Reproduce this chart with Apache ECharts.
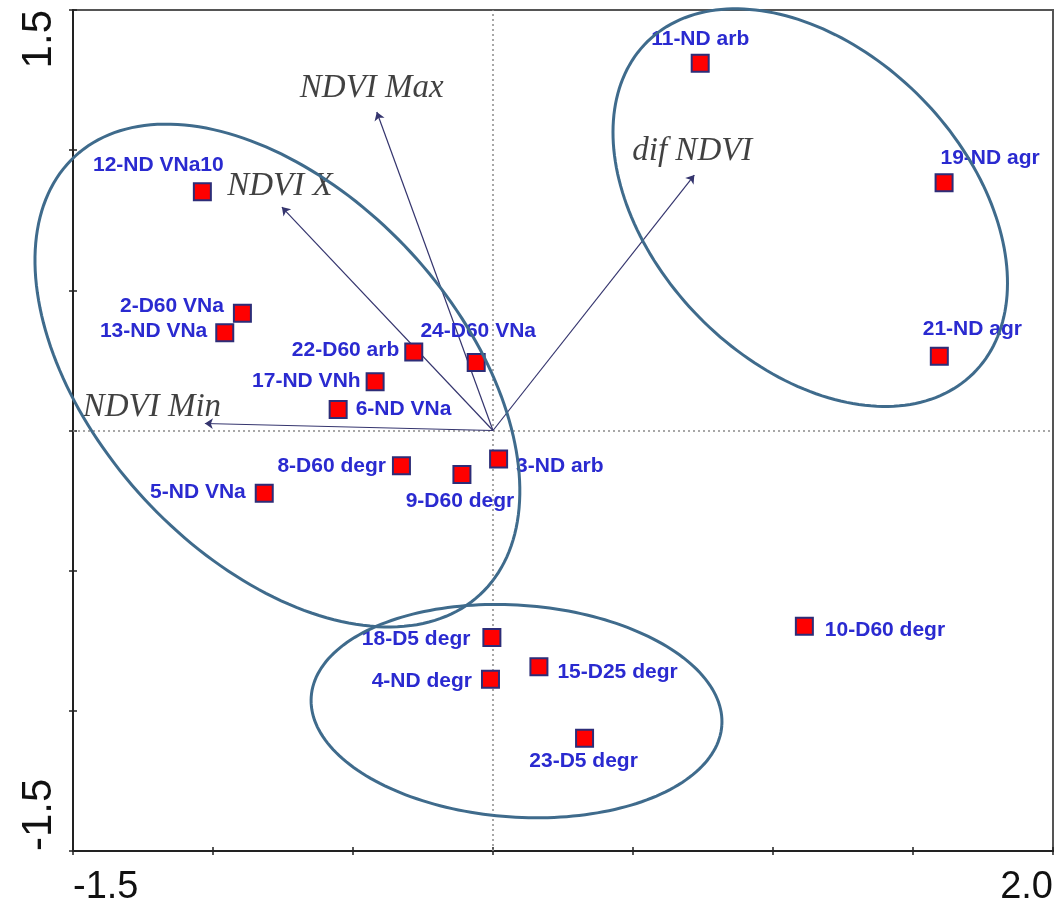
<!DOCTYPE html>
<html><head><meta charset="utf-8">
<script src="https://cdn.jsdelivr.net/npm/echarts@6/dist/echarts.min.js"></script>
<style>html,body{margin:0;padding:0;background:#fff}#c{width:1056px;height:910px}</style>
</head><body><div id="c"></div>
<script>
// ---- data ----
const pointNames = ['11-ND arb','19-ND agr','21-ND agr','12-ND VNa10','2-D60 VNa','13-ND VNa','22-D60 arb','24-D60 VNa','17-ND VNh','6-ND VNa','8-D60 degr','9-D60 degr','3-ND arb','5-ND VNa','18-D5 degr','4-ND degr','15-D25 degr','23-D5 degr','10-D60 degr'];
const pointX = [0.740, 1.611, 1.594, -1.038, -0.895, -0.958, -0.283, -0.060, -0.421, -0.553, -0.327, -0.111, 0.020, -0.817, -0.004, -0.009, 0.164, 0.327, 1.112];
const pointY = [1.310, 0.884, 0.265, 0.852, 0.418, 0.349, 0.280, 0.243, 0.174, 0.075, -0.126, -0.157, -0.102, -0.224, -0.738, -0.887, -0.843, -1.098, -0.698];
const vectorNames = ['NDVI Max', 'NDVI X', 'dif NDVI', 'NDVI Min'];
const vectorX = [-0.415, -0.754, 0.719, -1.029];
const vectorY = [1.136, 0.797, 0.911, 0.025];
const ellipseCx = [-0.770, 1.133, 0.084];
const ellipseCy = [0.196, 0.795, -1.001];
const ellipseA = [1.065, 0.830, 0.735];
const ellipseB = [0.648, 0.557, 0.378];
const ellipseAngle = [-47.2, -45.5, -4];
const xTickLabels = ['-1.5', '2.0'];
const yTickLabels = ['-1.5', '1.5'];

// ---- label layout (style only) ----
const labelLayout = {
  '11-ND arb': ['top', 4, 0, 0],
  '19-ND agr': ['top', 4, 46, 0],
  '21-ND agr': ['top', 7, 33, 0],
  '12-ND VNa10': ['top', 6, -44, 0],
  '2-D60 VNa': ['left', 9, 0, -7],
  '13-ND VNa': ['left', 8, 0, -1],
  '22-D60 arb': ['left', 5, 0, -2],
  '24-D60 VNa': ['top', 11, 2, 0],
  '17-ND VNh': ['left', 5, 0, -1],
  '6-ND VNa': ['right', 8, 0, 0],
  '8-D60 degr': ['left', 6, 0, 0],
  '9-D60 degr': ['bottom', 7, -2, 0],
  '3-ND arb': ['right', 8, 0, 7],
  '5-ND VNa': ['left', 9, 0, -1],
  '18-D5 degr': ['left', 12, 0, 2],
  '4-ND degr': ['left', 9, 0, 2],
  '15-D25 degr': ['right', 9, 0, 5],
  '23-D5 degr': ['bottom', 3, -1, 0],
  '10-D60 degr': ['right', 11, 0, 4]
};
const vectorLabelOffset = {
  'NDVI Max': [-5, -24],
  'NDVI X': [-2, -21],
  'dif NDVI': [-2, -24],
  'NDVI Min': [-53, -16]
};

const chart = echarts.init(document.getElementById('c'), null, {renderer: 'canvas'});

const pointData = pointNames.map((n, i) => {
  const L = labelLayout[n];
  return {name: n, value: [pointX[i], pointY[i]],
    label: {position: L[0], distance: L[1], offset: [L[2], L[3]]}};
});
const vectorTipData = vectorNames.map((n, i) => ({
  name: n, value: [vectorX[i], vectorY[i]],
  label: {offset: vectorLabelOffset[n]}
}));
const vectorLines = vectorNames.map((n, i) => ({coords: [[0, 0], [vectorX[i], vectorY[i]]]}));
const ellipseData = ellipseCx.map((c, i) => [c, ellipseCy[i], ellipseA[i], ellipseB[i], ellipseAngle[i]]);

function fmtX(v) { const s = v.toFixed(1); return xTickLabels.indexOf(s) >= 0 ? s : ''; }
function fmtY(v) { const s = v.toFixed(1); return yTickLabels.indexOf(s) >= 0 ? s : ''; }

chart.setOption({
  animation: false,
  backgroundColor: '#fff',
  grid: {left: 73, right: 2, top: 10, bottom: 59, show: true, borderColor: '#555', borderWidth: 2, containLabel: false},
  xAxis: [{
    type: 'value', min: -1.5, max: 2.0, interval: 0.5, position: 'bottom',
    splitLine: {show: false},
    axisLine: {show: true, onZero: false, lineStyle: {color: '#222', width: 2}},
    axisTick: {show: true, inside: false, length: 4, lineStyle: {color: '#222', width: 1.5}},
    axisLabel: {show: true, formatter: fmtX, fontSize: 38, color: '#111', fontFamily: 'Liberation Sans, Arial, sans-serif',
      margin: 18, showMinLabel: true, showMaxLabel: true, alignMinLabel: 'left', alignMaxLabel: 'right', hideOverlap: false}
  }, {
    type: 'value', min: -1.5, max: 2.0, interval: 0.5, position: 'bottom', gridIndex: 0,
    splitLine: {show: false}, axisLine: {show: false, onZero: false},
    axisTick: {show: true, inside: true, length: 4, lineStyle: {color: '#222', width: 1.5}},
    axisLabel: {show: false}
  }],
  yAxis: [{
    type: 'value', min: -1.5, max: 1.5, interval: 0.5, position: 'left',
    splitLine: {show: false},
    axisLine: {show: true, onZero: false, lineStyle: {color: '#222', width: 2}},
    axisTick: {show: true, inside: false, length: 4, lineStyle: {color: '#222', width: 1.5}},
    axisLabel: {show: true, formatter: fmtY, fontSize: 42, color: '#111', fontFamily: 'Liberation Sans, Arial, sans-serif',
      rotate: 90, margin: 13, showMinLabel: true, showMaxLabel: true, alignMinLabel: 'left', alignMaxLabel: 'right', hideOverlap: false}
  }, {
    type: 'value', min: -1.5, max: 1.5, interval: 0.5, position: 'left', gridIndex: 0,
    splitLine: {show: false}, axisLine: {show: false, onZero: false},
    axisTick: {show: true, inside: true, length: 4, lineStyle: {color: '#222', width: 1.5}},
    axisLabel: {show: false}
  }],
  series: [
    {
      type: 'scatter', name: 'ref', data: [], silent: true, z: 1,
      markLine: {
        silent: true, z: 1, symbol: ['none', 'none'], label: {show: false}, animation: false,
        lineStyle: {color: '#8a8a8a', width: 1.5, type: [2, 3]},
        data: [{xAxis: 0}, {yAxis: 0}]
      }
    },
    {
      type: 'lines', coordinateSystem: 'cartesian2d', z: 2, silent: true,
      symbol: ['none', 'arrow'], symbolSize: 8,
      lineStyle: {color: '#35356e', width: 1.2, opacity: 1},
      data: vectorLines
    },
    {
      type: 'scatter', z: 2, silent: true, symbolSize: 1,
      itemStyle: {color: 'rgba(0,0,0,0)'},
      label: {show: true, position: 'inside', formatter: p => p.name, fontSize: 33, fontStyle: 'italic',
        fontFamily: 'Liberation Serif, Times New Roman, serif', color: '#111'},
      data: vectorTipData
    },
    {
      type: 'scatter', z: 3, symbol: 'rect', symbolSize: 17,
      itemStyle: {color: '#ff0000', borderColor: '#2d2d78', borderWidth: 2, opacity: 1},
      label: {show: true, formatter: p => p.name, fontSize: 21, fontWeight: 'bold',
        fontFamily: 'Liberation Sans, Arial, sans-serif', color: '#2a2ad0'},
      data: pointData
    },
    {
      type: 'custom', z: 5, clip: false, silent: true,
      encode: {x: 0, y: 1},
      renderItem: function (params, api) {
        const cx = api.value(0), cy = api.value(1), a = api.value(2), b = api.value(3);
        const ang = api.value(4) * Math.PI / 180;
        const pts = [];
        for (let i = 0; i <= 200; i++) {
          const t = i / 200 * 2 * Math.PI;
          const ex = a * Math.cos(t), ey = b * Math.sin(t);
          const x = cx + ex * Math.cos(ang) - ey * Math.sin(ang);
          const y = cy + ex * Math.sin(ang) + ey * Math.cos(ang);
          pts.push(api.coord([x, y]));
        }
        return {type: 'polyline', shape: {points: pts}, style: {stroke: '#3f6b8c', lineWidth: 3, fill: null}};
      },
      data: ellipseData
    }
  ]
});
</script></body></html>
